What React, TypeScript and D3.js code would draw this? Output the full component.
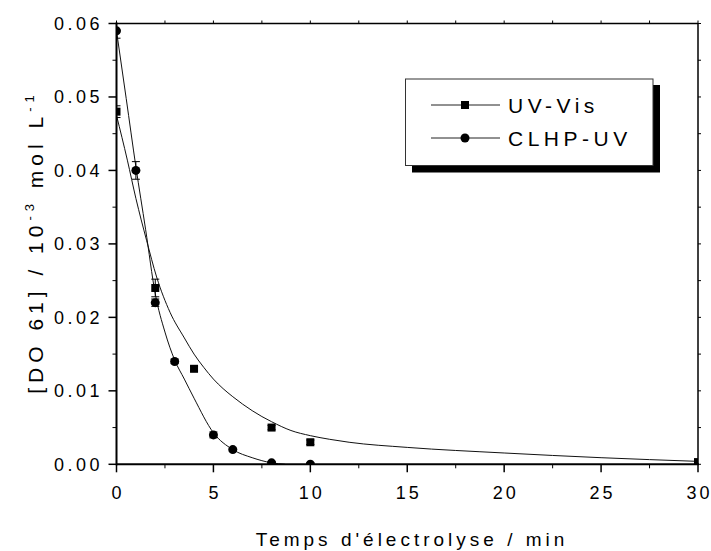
import React from "react";
import * as d3 from "d3";

const uvX = [0, 2, 4, 8, 10, 30];
const uvY = [0.048, 0.024, 0.013, 0.005, 0.003, 0.0003];
const uvErr = [0.0008, 0.0012, 0.0003, 0.0003, 0.0003, 0.0002];

const clhpX = [0, 1, 2, 3, 5, 6, 8, 10];
const clhpY = [0.059, 0.04, 0.022, 0.014, 0.004, 0.002, 0.0002, 0.0];
const clhpErr = [0.001, 0.0012, 0.0005, 0.0003, 0.0004, 0.0002, 0.0002, 0.0002];

const uvFitX = [0, 0.56, 1, 1.55, 2.07, 2.76, 3.5, 4, 4.5, 5, 5.5, 6, 6.5, 7, 7.5, 8, 9, 10, 11, 12, 15, 20, 25, 30];
const uvFitY = [0.0475, 0.0414, 0.0362, 0.0305, 0.0255, 0.0207, 0.0172, 0.015, 0.0132, 0.0116, 0.0103, 0.0092, 0.0082, 0.0073, 0.0065, 0.0058, 0.0046, 0.0039, 0.0034, 0.003, 0.0023, 0.00154, 0.0009, 0.0004];

const clhpFitX = [0, 0.5, 1, 1.5, 2, 2.5, 3, 3.5, 4, 5, 6, 7, 8, 8.7];
const clhpFitY = [0.059, 0.0498, 0.0405, 0.032, 0.0232, 0.018, 0.0142, 0.0116, 0.009, 0.0043, 0.002, 0.0009, 0.0002, 0];

const xTicks = [0, 5, 10, 15, 20, 25, 30];
const xMinor = [2.5, 7.5, 12.5, 17.5, 22.5, 27.5];
const yTicks = [0, 0.01, 0.02, 0.03, 0.04, 0.05, 0.06];
const yMinor = [0.005, 0.015, 0.025, 0.035, 0.045, 0.055];
const legendLabels = ["UV-Vis", "CLHP-UV"];

const W = 711, H = 551;
const L = 116.5, R = 698, T = 23.5, B = 464.3;
const FONT = "'Liberation Sans', Arial, Helvetica, sans-serif";

export default function App() {
  const x = d3.scaleLinear().domain([0, 30]).range([L, R]);
  const y = d3.scaleLinear().domain([0, 0.06]).range([B, T]);
  const line = d3.line<[number, number]>().x(d => x(d[0])).y(d => y(d[1])).curve(d3.curveMonotoneX);
  const uvFit = uvFitX.map((v, i) => [v, uvFitY[i]] as [number, number]);
  const clFit = clhpFitX.map((v, i) => [v, clhpFitY[i]] as [number, number]);
  const allTicksX = [...xTicks, ...xMinor];
  const allTicksY = [...yTicks, ...yMinor];

  const errBar = (xv: number, yv: number, e: number, k: string) => (
    <g key={k} stroke="#000" strokeWidth={1}>
      <line x1={x(xv)} x2={x(xv)} y1={y(yv + e)} y2={y(yv - e)} />
      <line x1={x(xv) - 4} x2={x(xv) + 4} y1={y(yv + e)} y2={y(yv + e)} />
      <line x1={x(xv) - 4} x2={x(xv) + 4} y1={y(yv - e)} y2={y(yv - e)} />
    </g>
  );

  return (
    <svg width={W} height={H} style={{ position: "absolute", left: 0, top: 0, background: "#fff" }} fontFamily={FONT}>
      <defs>
        <clipPath id="plot">
          <rect x={L} y={T} width={R - L} height={B - T} />
        </clipPath>
      </defs>
      <rect x={0} y={0} width={W} height={H} fill="#fff" />
      <g clipPath="url(#plot)">
        <path d={line(uvFit) || ""} fill="none" stroke="#111" strokeWidth={1} />
        <path d={line(clFit) || ""} fill="none" stroke="#111" strokeWidth={1} />
        {uvX.map((v, i) => errBar(v, uvY[i], uvErr[i], "ue" + i))}
        {clhpX.map((v, i) => errBar(v, clhpY[i], clhpErr[i], "ce" + i))}
        {uvX.map((v, i) => (
          <rect key={"u" + i} x={x(v) - 4} y={y(uvY[i]) - 4} width={8} height={8} fill="#000" />
        ))}
        {clhpX.map((v, i) => (
          <circle key={"c" + i} cx={x(v)} cy={y(clhpY[i])} r={4.5} fill="#000" />
        ))}
      </g>
      <line x1={L} x2={R} y1={T} y2={T} stroke="#000" strokeWidth={1.5} />
      <line x1={R} x2={R} y1={T} y2={B} stroke="#000" strokeWidth={1.5} />
      <line x1={L} x2={R + 1} y1={B} y2={B} stroke="#000" strokeWidth={2} />
      <line x1={L} x2={L} y1={T - 1} y2={B + 1} stroke="#000" strokeWidth={2} />
      {allTicksX.map((t, i) => {
        const major = xTicks.includes(t);
        return (
          <g key={"xt" + i} stroke="#000" strokeWidth={1}>
            <line x1={x(t)} x2={x(t)} y1={B} y2={B + (major ? 8 : 4)} strokeWidth={major ? 1.5 : 1} />
            <line x1={x(t)} x2={x(t)} y1={T} y2={T - 3} />
          </g>
        );
      })}
      {allTicksY.map((t, i) => {
        const major = yTicks.includes(t);
        return (
          <g key={"yt" + i} stroke="#000" strokeWidth={1}>
            <line x1={L} x2={L - (major ? 8 : 4)} y1={y(t)} y2={y(t)} strokeWidth={major ? 1.5 : 1} />
            <line x1={R} x2={R + 3} y1={y(t)} y2={y(t)} />
          </g>
        );
      })}
      {xTicks.map((t, i) => (
        <text key={"xl" + i} x={x(t) + 1.5} y={499} textAnchor="middle" fontSize={18} letterSpacing={3} fill="#000">
          {String(t)}
        </text>
      ))}
      {yTicks.map((t, i) => (
        <text key={"yl" + i} x={103} y={y(t) + 6.5} textAnchor="end" fontSize={18} letterSpacing={3.5} fill="#000">
          {d3.format(".2f")(t)}
        </text>
      ))}
      <text x={412} y={546} textAnchor="middle" fontSize={19} letterSpacing={4} fill="#000">
        Temps d'électrolyse / min
      </text>
      <text transform="translate(43,242) rotate(-90)" textAnchor="middle" fontSize={21} letterSpacing={5} fill="#000">
        [DO 61] / 10<tspan dy={-9} fontSize={13}>-3</tspan>
        <tspan dy={9}> mol L</tspan>
        <tspan dy={-9} fontSize={13}>-1</tspan>
      </text>
      <rect x={412} y={85} width={248} height={87.5} fill="#000" />
      <rect x={405.5} y={79} width={247.5} height={86.5} fill="#fff" stroke="#333" strokeWidth={1} />
      {legendLabels.map((lab, i) => {
        const ly = 105 + i * 33;
        return (
          <g key={"lg" + i}>
            <line x1={431} x2={500} y1={ly} y2={ly} stroke="#222" strokeWidth={1} />
            {i === 0 ? (
              <rect x={461} y={ly - 4} width={8} height={8} fill="#000" />
            ) : (
              <circle cx={465} cy={ly} r={4.5} fill="#000" />
            )}
            <text x={508} y={ly + 8} fontSize={21} letterSpacing={4.5} fill="#000">
              {lab}
            </text>
          </g>
        );
      })}
    </svg>
  );
}
